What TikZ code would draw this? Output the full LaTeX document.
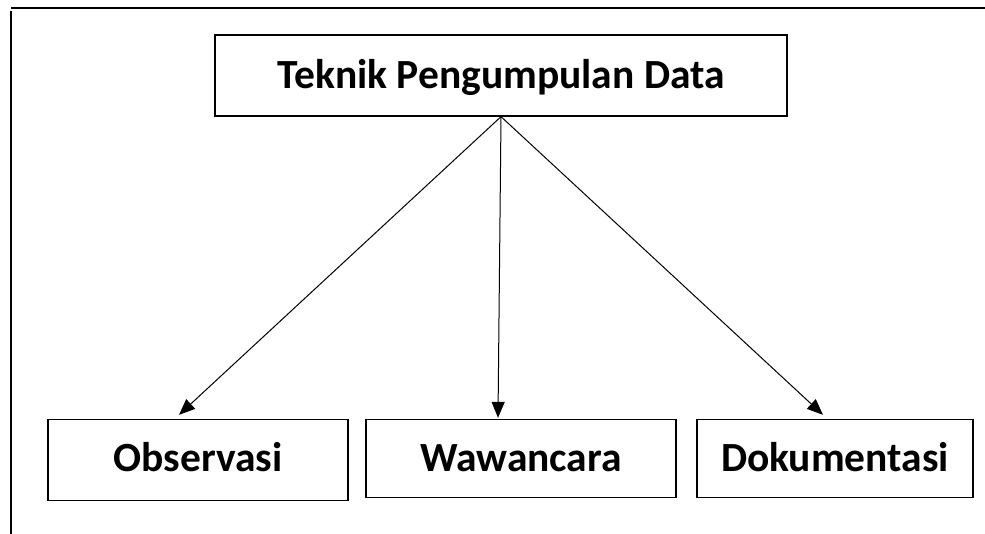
\documentclass[tikz,border=0pt]{standalone}
\usepackage{fontspec}
\setmainfont{Carlito}
\usetikzlibrary{arrows.meta}

\def\Yt{75.5}
\def\Yb{458.5}

\begin{document}
\begin{tikzpicture}[x=1pt,y=-1pt,
    >={Triangle[length=16pt,width=13pt]},
    box/.style={draw,line width=1.3pt,inner sep=0pt,
      text height=26.5pt,text depth=0pt,
      font=\fontsize{41.5}{50}\selectfont\bfseries}]
    \useasboundingbox (0,0) rectangle (985,534);
    \draw[line width=1.5pt] (11,8) -- (985,8);
    \draw[line width=1.5pt] (11,11) -- (11,534);
    \node[box,minimum width=572pt,minimum height=81pt] (TPD) at (501,\Yt) {Teknik Pengumpulan Data};
    \node[box,minimum width=300pt,minimum height=81pt,text depth=3pt] (Obs) at (198,\Yb+1.5) {Observasi};
    \node[box,minimum width=310pt,minimum height=78pt] (Waw) at (521,\Yb) {Wawancara};
    \node[box,minimum width=276pt,minimum height=78pt] (Dok) at (835,\Yb) {Dokumentasi};
    \draw[->,line width=1pt] (TPD.south) -- ([xshift=-19pt,yshift=4pt]Obs.north);
    \draw[->,line width=1pt] (TPD.south) -- ([xshift=-23pt,yshift=1pt]Waw.north);
    \draw[->,line width=1pt] (TPD.south) -- ([xshift=-12pt,yshift=4pt]Dok.north);
  \end{tikzpicture}
\end{document}
